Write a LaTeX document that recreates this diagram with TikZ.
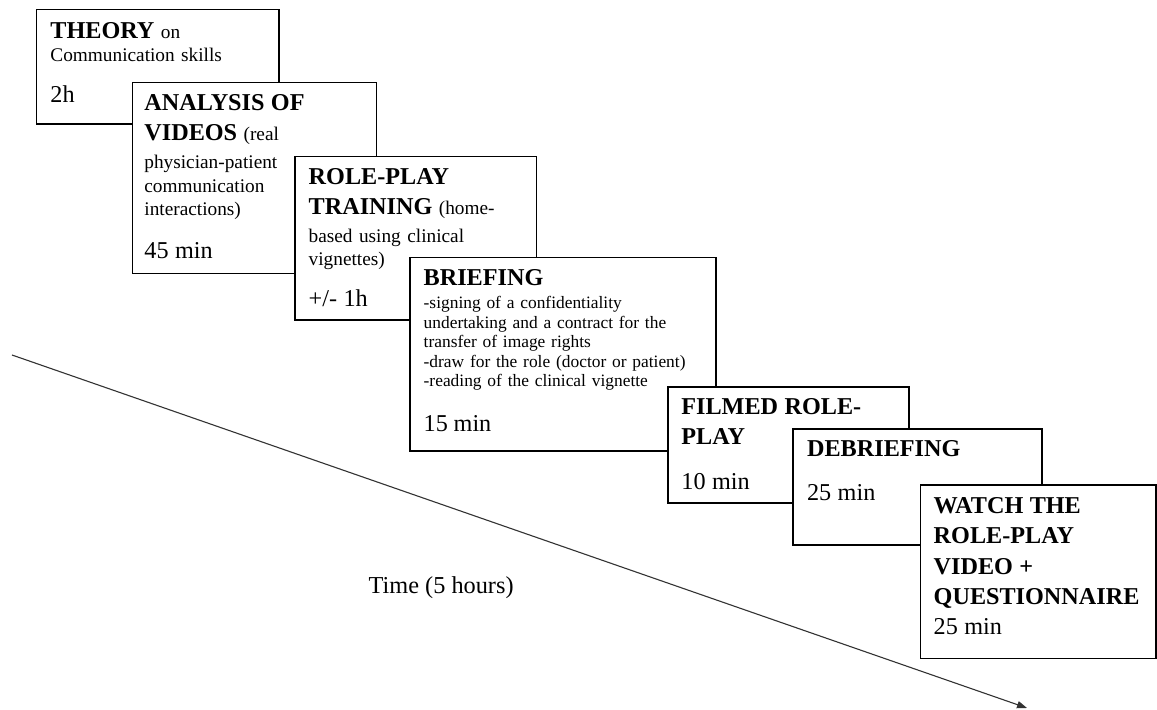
\documentclass[tikz,border=0pt]{standalone}
\usepackage{fontspec}
\setmainfont{Liberation Serif}
\usetikzlibrary{arrows.meta}

\newcommand{\kopf}[1]{{\fontsize{12.1}{14}\selectfont\bfseries #1}}
\newcommand{\dauer}[1]{{\fontsize{12.1}{14}\selectfont #1}}
\lineskiplimit=-20pt

\tikzset{
	kasten/.style={draw=black, fill=white, line width=0.65pt},
	schritt/.style={anchor=base west, inner sep=0pt, text width=150pt, align=left, font=\fontsize{9.65}{11.6}\selectfont},
	pfeil/.style={-{Triangle[length=5pt, width=3.6pt]}, line width=0.55pt, draw=black!80},
}

\begin{document}
\begin{tikzpicture}[x=0.5pt, y=-0.5pt]
	\fill[white, use as bounding box] (0,0) rectangle (1157,710); % Hintergrund, legt Groesse fest

	\filldraw[kasten] (36.7,9.7) rectangle (279,124);
	\node[schritt] (theorie) at (50,38.3) {\kopf{THEORY} on\\ Communication skills\\[8.7pt] \dauer{2h}};

	\filldraw[kasten] (132.3,82.3) rectangle (376.7,273.3);
	\node[schritt] (videos) at (144,110.7) {\kopf{ANALYSIS OF}\\[3.4pt] \kopf{VIDEOS} (real\\[2.55pt] physician-patient\\ communication\\ interactions)\\[10.05pt] \dauer{45 min}};

	\filldraw[kasten] (295,156.7) rectangle (536.7,320);
	\node[schritt] (training) at (308.3,185) {\kopf{ROLE-PLAY}\\[3.4pt] \kopf{TRAINING} (home-\\[2.05pt] based using clinical\\ vignettes)\\[8.75pt] \dauer{+/- 1h}};

	\filldraw[kasten] (410,257.7) rectangle (716,451);
	\node[schritt, font=\fontsize{8.7}{9.75}\selectfont] (briefing) at (423.3,286) {\kopf{BRIEFING}\\[1.75pt] -signing of a confidentiality\\ undertaking and a contract for the\\ transfer of image rights\\ -draw for the role (doctor or patient)\\ -reading of the clinical vignette\\[11.25pt] \dauer{15 min}};

	\filldraw[kasten] (668,387) rectangle (909,503);
	\node[schritt] (film) at (681,415) {\kopf{FILMED ROLE-}\\[3.4pt] \kopf{PLAY}\\[10.55pt] \dauer{10 min}};

	\filldraw[kasten] (793,429) rectangle (1042,545);
	\node[schritt] (debriefing) at (806.7,456.7) {\kopf{DEBRIEFING}\\[10.4pt] \dauer{25 min}};

	\filldraw[kasten] (920.7,485) rectangle (1156,658.3);
	\node[schritt] (video) at (933.3,513.3) {\kopf{WATCH THE}\\[3.6pt] \kopf{ROLE-PLAY}\\[3.6pt] \kopf{VIDEO +}\\[3.6pt] \kopf{QUESTIONNAIRE}\\[3.6pt] \dauer{25 min}};

	% Zeitachse
	\coordinate (anfang) at (12,355);
	\coordinate (ende) at (1027,708);
	\draw[pfeil] (anfang) -- (ende);
	\node[anchor=base west, inner sep=0pt, font=\fontsize{12.15}{14}\selectfont] (zeit) at (368.3,593.3) {Time (5 hours)};
\end{tikzpicture}
\end{document}
